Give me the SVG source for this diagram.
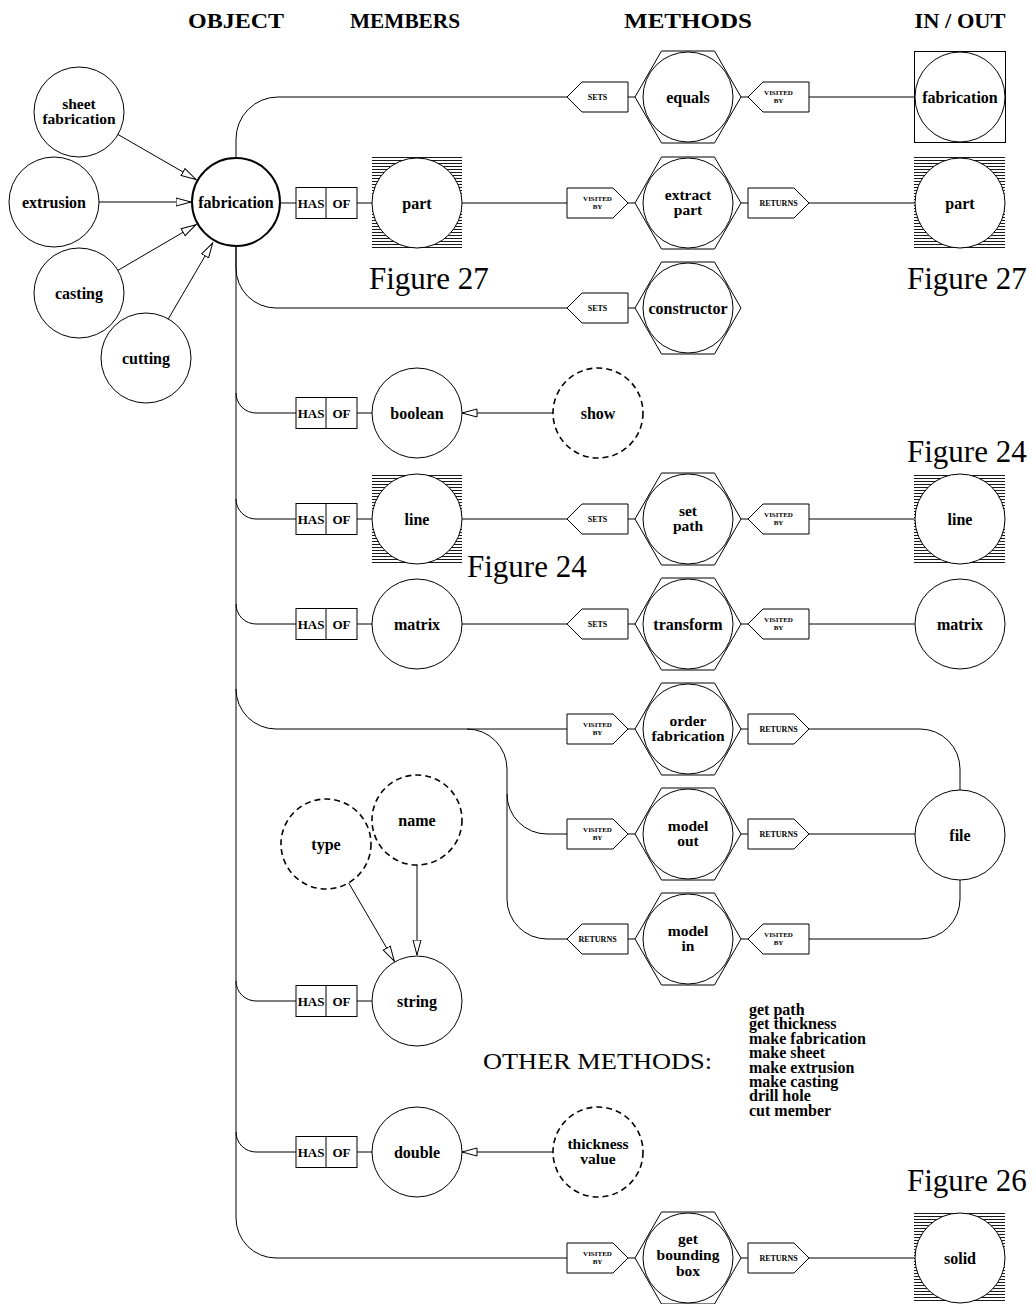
<svg xmlns="http://www.w3.org/2000/svg" xmlns:xlink="http://www.w3.org/1999/xlink" width="1036" height="1304" viewBox="0 0 1036 1304">
<style>
.n{fill:#fff;stroke:#000;stroke-width:1}
.b{fill:#fff;stroke:#000;stroke-width:2}
.d{fill:#fff;stroke:#000;stroke-width:1.6;stroke-dasharray:6 4}
.hx{fill:#fff;stroke:#000;stroke-width:1}
.sq{fill:#fff;stroke:#000;stroke-width:1}
.ht{fill:url(#hatch);stroke:none}
.c{fill:none;stroke:#000;stroke-width:1}
.a{fill:none;stroke:#000;stroke-width:1;marker-end:url(#arr)}
text{font-family:"Liberation Serif","Times New Roman",serif;font-weight:bold;text-anchor:middle;fill:#000}
.t{font-size:16px}
.t2{font-size:15.5px}
.s{font-size:8px}
.v{font-size:7px}
.hs{font-size:13px}
.hd{font-size:22px}
.fg{font-size:31px;font-weight:normal;text-anchor:start}
.om{font-size:24px;font-weight:normal;text-anchor:start}
.ml{font-size:16px;text-anchor:start}
</style>
<defs>
<pattern id="hatch" width="6" height="3" patternUnits="userSpaceOnUse"><rect width="6" height="3" fill="#fff"/><line x1="0" y1="1.5" x2="6" y2="1.5" stroke="#000" stroke-width="0.9"/></pattern>
<marker id="arr" markerWidth="17" markerHeight="11" refX="15.5" refY="5" orient="auto" markerUnits="userSpaceOnUse"><path d="M0.5,1 L15.5,5 L0.5,9 z" fill="#fff" stroke="#000" stroke-width="1"/></marker>
<polygon id="hex" class="hx" points="-53,0 -26.5,-46 26.5,-46 53,0 26.5,46 -26.5,46"/>
<polygon id="tagL" class="n" points="0,0 15,-15 61,-15 61,15 15,15"/>
<polygon id="tagR" class="n" points="0,-15 46,-15 61,0 46,15 0,15"/>
<g id="hasof"><rect class="n" x="0" y="-15.5" width="61" height="31"/><line class="c" x1="30" y1="-15.5" x2="30" y2="15.5"/><text class="hs" x="15" y="4.5">HAS</text><text class="hs" x="45.5" y="4.5">OF</text></g>
</defs>

<!-- headers -->
<g id="headers">
<text class="hd" x="236" y="28" textLength="96" lengthAdjust="spacingAndGlyphs">OBJECT</text>
<text class="hd" x="405" y="28" textLength="110" lengthAdjust="spacingAndGlyphs">MEMBERS</text>
<text class="hd" x="688" y="28" textLength="128" lengthAdjust="spacingAndGlyphs">METHODS</text>
<text class="hd" x="960" y="28" textLength="91" lengthAdjust="spacingAndGlyphs">IN / OUT</text>
</g>

<!-- connectors -->
<g id="connectors">
<path class="a" d="M118,134.5 L196,179.5"/>
<path class="a" d="M99,202 L191,202"/>
<path class="a" d="M118,270.3 L196,224.7"/>
<path class="a" d="M168.3,318.9 L212.7,242.9"/>
<path class="c" d="M236,157 V139 A42,42 0 0 1 278,97 H567"/>
<path class="c" d="M281,203 H296 M357,203 H372"/>
<path class="c" d="M236,247 V268 A40,40 0 0 0 276,308 H567"/>
<path class="c" d="M236,247 V1218 A40,40 0 0 0 276,1258 H567"/>
<path class="c" d="M236,393 A20,20 0 0 0 256,413 H296 M357,413 H372"/>
<path class="c" d="M236,499 A20,20 0 0 0 256,519 H296 M357,519 H372"/>
<path class="c" d="M236,604 A20,20 0 0 0 256,624 H296 M357,624 H372"/>
<path class="c" d="M236,981 A20,20 0 0 0 256,1001 H296 M357,1001 H372"/>
<path class="c" d="M236,1132 A20,20 0 0 0 256,1152 H296 M357,1152 H372"/>
<path class="c" d="M236,689 A40,40 0 0 0 276,729 H567"/>
<path class="c" d="M467,729 A40,40 0 0 1 507,769 V899 A40,40 0 0 0 547,939 H567"/>
<path class="c" d="M507,794 A40,40 0 0 0 547,834 H567"/>
<path class="c" d="M462,203 H567 M462,519 H567 M462,624 H567"/>
<path class="c" d="M628,97 H635 M741,97 H748 M628,203 H635 M741,203 H748 M628,308 H635 M628,519 H635 M741,519 H748 M628,624 H635 M741,624 H748 M628,729 H635 M741,729 H748 M628,834 H635 M741,834 H748 M628,939 H635 M741,939 H748 M628,1258 H635 M741,1258 H748"/>
<path class="c" d="M809,97 H915 M809,203 H915 M809,519 H915 M809,624 H915 M809,1258 H915 M809,834 H915"/>
<path class="c" d="M809,729 H920 A40,40 0 0 1 960,769 V790"/>
<path class="c" d="M809,939 H920 A40,40 0 0 0 960,899 V880"/>
<path class="a" d="M553,413 H462"/>
<path class="a" d="M553,1152 H462"/>
<path class="a" d="M348.7,882.9 L394.3,961.1"/>
<path class="a" d="M417,865 V955"/>
</g>

<!-- object column -->
<g id="n-sheet"><circle class="n" cx="79" cy="112" r="45"/><text class="t2" x="79" y="109">sheet</text><text class="t2" x="79" y="124">fabrication</text></g>
<g id="n-extrusion"><circle class="n" cx="54" cy="202" r="45"/><text class="t" x="54" y="208">extrusion</text></g>
<g id="n-casting"><circle class="n" cx="79" cy="293" r="45"/><text class="t" x="79" y="299">casting</text></g>
<g id="n-cutting"><circle class="n" cx="146" cy="358" r="45"/><text class="t" x="146" y="364">cutting</text></g>
<g id="n-fabrication"><circle class="b" cx="236" cy="202" r="44"/><text class="t" x="236" y="208">fabrication</text></g>

<!-- has/of boxes -->
<g id="h-part"><use xlink:href="#hasof" x="296" y="203"/></g>
<g id="h-boolean"><use xlink:href="#hasof" x="296" y="413"/></g>
<g id="h-line"><use xlink:href="#hasof" x="296" y="519"/></g>
<g id="h-matrix"><use xlink:href="#hasof" x="296" y="624"/></g>
<g id="h-string"><use xlink:href="#hasof" x="296" y="1001"/></g>
<g id="h-double"><use xlink:href="#hasof" x="296" y="1152"/></g>

<!-- members -->
<g id="m-part"><rect class="ht" x="372" y="157" width="90" height="91"/><circle class="n" cx="417" cy="203" r="45"/><text class="t" x="417" y="209">part</text></g>
<g id="m-boolean"><circle class="n" cx="417" cy="413" r="45"/><text class="t" x="417" y="419">boolean</text></g>
<g id="m-line"><rect class="ht" x="372" y="473" width="90" height="91"/><circle class="n" cx="417" cy="519" r="45"/><text class="t" x="417" y="525">line</text></g>
<g id="m-matrix"><circle class="n" cx="417" cy="624" r="45"/><text class="t" x="417" y="630">matrix</text></g>
<g id="m-string"><circle class="n" cx="417" cy="1001" r="45"/><text class="t" x="417" y="1007">string</text></g>
<g id="m-double"><circle class="n" cx="417" cy="1152" r="45"/><text class="t" x="417" y="1158">double</text></g>
<g id="d-show"><circle class="d" cx="598" cy="413" r="45"/><text class="t" x="598" y="419">show</text></g>
<g id="d-thickness"><circle class="d" cx="598" cy="1152" r="45"/><text class="t2" x="598" y="1149">thickness</text><text class="t2" x="598" y="1164">value</text></g>
<g id="d-type"><circle class="d" cx="326" cy="844" r="45"/><text class="t" x="326" y="850">type</text></g>
<g id="d-name"><circle class="d" cx="417" cy="820" r="45"/><text class="t" x="417" y="826">name</text></g>

<!-- tags -->
<g id="tags">
<use xlink:href="#tagL" x="567" y="97"/><text class="s" x="597.5" y="100">SETS</text>
<use xlink:href="#tagL" x="748" y="97"/><text class="v" x="778.5" y="95">VISITED</text><text class="v" x="778.5" y="103">BY</text>
<use xlink:href="#tagR" x="567" y="203"/><text class="v" x="597.5" y="201">VISITED</text><text class="v" x="597.5" y="209">BY</text>
<use xlink:href="#tagR" x="748" y="203"/><text class="s" x="778.5" y="206">RETURNS</text>
<use xlink:href="#tagL" x="567" y="308"/><text class="s" x="597.5" y="311">SETS</text>
<use xlink:href="#tagL" x="567" y="519"/><text class="s" x="597.5" y="522">SETS</text>
<use xlink:href="#tagL" x="748" y="519"/><text class="v" x="778.5" y="517">VISITED</text><text class="v" x="778.5" y="525">BY</text>
<use xlink:href="#tagL" x="567" y="624"/><text class="s" x="597.5" y="627">SETS</text>
<use xlink:href="#tagL" x="748" y="624"/><text class="v" x="778.5" y="622">VISITED</text><text class="v" x="778.5" y="630">BY</text>
<use xlink:href="#tagR" x="567" y="729"/><text class="v" x="597.5" y="727">VISITED</text><text class="v" x="597.5" y="735">BY</text>
<use xlink:href="#tagR" x="748" y="729"/><text class="s" x="778.5" y="732">RETURNS</text>
<use xlink:href="#tagR" x="567" y="834"/><text class="v" x="597.5" y="832">VISITED</text><text class="v" x="597.5" y="840">BY</text>
<use xlink:href="#tagR" x="748" y="834"/><text class="s" x="778.5" y="837">RETURNS</text>
<use xlink:href="#tagL" x="567" y="939"/><text class="s" x="597.5" y="942">RETURNS</text>
<use xlink:href="#tagL" x="748" y="939"/><text class="v" x="778.5" y="937">VISITED</text><text class="v" x="778.5" y="945">BY</text>
<use xlink:href="#tagR" x="567" y="1258"/><text class="v" x="597.5" y="1256">VISITED</text><text class="v" x="597.5" y="1264">BY</text>
<use xlink:href="#tagR" x="748" y="1258"/><text class="s" x="778.5" y="1261">RETURNS</text>
</g>

<!-- methods -->
<g id="f-equals"><use xlink:href="#hex" x="688" y="97"/><circle class="n" cx="688" cy="97" r="45"/><text class="t" x="688" y="103">equals</text></g>
<g id="f-extract"><use xlink:href="#hex" x="688" y="203"/><circle class="n" cx="688" cy="203" r="45"/><text class="t2" x="688" y="200">extract</text><text class="t2" x="688" y="215">part</text></g>
<g id="f-constructor"><use xlink:href="#hex" x="688" y="308"/><circle class="n" cx="688" cy="308" r="45"/><text class="t" x="688" y="314">constructor</text></g>
<g id="f-setpath"><use xlink:href="#hex" x="688" y="519"/><circle class="n" cx="688" cy="519" r="45"/><text class="t2" x="688" y="516">set</text><text class="t2" x="688" y="531">path</text></g>
<g id="f-transform"><use xlink:href="#hex" x="688" y="624"/><circle class="n" cx="688" cy="624" r="45"/><text class="t" x="688" y="630">transform</text></g>
<g id="f-order"><use xlink:href="#hex" x="688" y="729"/><circle class="n" cx="688" cy="729" r="45"/><text class="t2" x="688" y="726">order</text><text class="t2" x="688" y="741">fabrication</text></g>
<g id="f-modelout"><use xlink:href="#hex" x="688" y="834"/><circle class="n" cx="688" cy="834" r="45"/><text class="t2" x="688" y="831">model</text><text class="t2" x="688" y="846">out</text></g>
<g id="f-modelin"><use xlink:href="#hex" x="688" y="939"/><circle class="n" cx="688" cy="939" r="45"/><text class="t2" x="688" y="936">model</text><text class="t2" x="688" y="951">in</text></g>
<g id="f-bbox"><use xlink:href="#hex" x="688" y="1258"/><circle class="n" cx="688" cy="1258" r="45"/><text class="t2" x="688" y="1244">get</text><text class="t2" x="688" y="1260">bounding</text><text class="t2" x="688" y="1276">box</text></g>

<!-- in/out -->
<g id="o-fabrication"><rect class="sq" x="914.5" y="51.5" width="91" height="91"/><circle class="n" cx="960" cy="97" r="45"/><text class="t" x="960" y="103">fabrication</text></g>
<g id="o-part"><rect class="ht" x="914" y="157" width="91" height="91"/><circle class="n" cx="960" cy="203" r="45"/><text class="t" x="960" y="209">part</text></g>
<g id="o-line"><rect class="ht" x="914" y="473" width="91" height="91"/><circle class="n" cx="960" cy="519" r="45"/><text class="t" x="960" y="525">line</text></g>
<g id="o-matrix"><circle class="n" cx="960" cy="624" r="45"/><text class="t" x="960" y="630">matrix</text></g>
<g id="o-file"><circle class="n" cx="960" cy="835" r="45"/><text class="t" x="960" y="841">file</text></g>
<g id="o-solid"><rect class="ht" x="914" y="1212" width="91" height="91"/><circle class="n" cx="960" cy="1258" r="45"/><text class="t" x="960" y="1264">solid</text></g>

<!-- figure labels -->
<g id="labels">
<text class="fg" x="369" y="289">Figure 27</text>
<text class="fg" x="907" y="289">Figure 27</text>
<text class="fg" x="907" y="462">Figure 24</text>
<text class="fg" x="467" y="577">Figure 24</text>
<text class="fg" x="907" y="1191">Figure 26</text>
<text class="om" x="483" y="1069" textLength="229" lengthAdjust="spacingAndGlyphs">OTHER METHODS:</text>
<text class="ml" x="749" y="1015">get path</text>
<text class="ml" x="749" y="1029.4">get thickness</text>
<text class="ml" x="749" y="1043.8">make fabrication</text>
<text class="ml" x="749" y="1058.2">make sheet</text>
<text class="ml" x="749" y="1072.6">make extrusion</text>
<text class="ml" x="749" y="1087">make casting</text>
<text class="ml" x="749" y="1101.4">drill hole</text>
<text class="ml" x="749" y="1115.8">cut member</text>
</g>
</svg>
